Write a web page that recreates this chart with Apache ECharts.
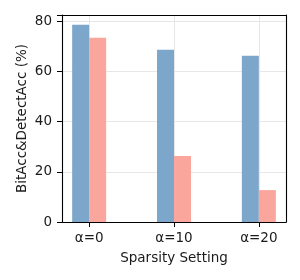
<!DOCTYPE html>
<html><head><meta charset="utf-8">
<script src="https://cdn.jsdelivr.net/npm/echarts@6/dist/echarts.min.js"></script>
<style>html,body{margin:0;padding:0;background:#fff}#c{width:300px;height:280px}</style>
</head><body><div id="c"></div>
<script>
const categories = ['α=0', 'α=10', 'α=20'];
const bitAcc = [78.5, 68.6, 66.2];
const detectAcc = [73.3, 26.3, 12.7];
const yTicks = [0, 20, 40, 60, 80];

const font = 'DejaVu Sans';
const chart = echarts.init(document.getElementById('c'), null, {renderer: 'canvas'});
const pos = categories.map((c, i) => i);
chart.setOption({
  animation: false,
  backgroundColor: '#fff',
  grid: {left: 62, right: 14, top: 15, bottom: 58, show: false},
  xAxis: [{
    type: 'value', min: -0.32, max: 2.32, position: 'bottom',
    name: 'Sparsity Setting', nameLocation: 'middle', nameGap: 29, nameMoveOverlap: false,
    nameTextStyle: {fontFamily: font, fontSize: 13.5, color: '#1a1a1a'},
    axisLine: {show: true, onZero: false, lineStyle: {color: '#000', width: 1.1}},
    axisTick: {show: true, customValues: pos, length: 5, lineStyle: {color: '#000', width: 1}},
    axisLabel: {customValues: pos, formatter: v => categories[Math.round(v)], fontFamily: font, fontSize: 13.5, color: '#1a1a1a', margin: 9},
    splitLine: {show: true, lineStyle: {color: '#e7e7e7', width: 1}}
  }, {
    type: 'value', min: -0.32, max: 2.32, position: 'top',
    axisLine: {show: true, onZero: false, lineStyle: {color: '#000', width: 1.1}},
    axisTick: {show: false}, axisLabel: {show: false}, splitLine: {show: false}
  }],
  yAxis: [{
    type: 'value', min: 0, max: 82.4, interval: 20, position: 'left',
    name: 'BitAcc&DetectAcc (%)', nameLocation: 'middle', nameGap: 33, nameMoveOverlap: false,
    nameTextStyle: {fontFamily: font, fontSize: 13.5, color: '#1a1a1a'},
    axisLine: {show: true, onZero: false, lineStyle: {color: '#000', width: 1.1}},
    axisTick: {show: true, length: 5, lineStyle: {color: '#000', width: 1}},
    axisLabel: {fontFamily: font, fontSize: 13.5, color: '#1a1a1a', margin: 10, showMaxLabel: true,
      formatter: v => yTicks.includes(v) ? String(v) : ''},
    splitLine: {show: true, lineStyle: {color: '#e7e7e7', width: 1}}
  }, {
    type: 'value', min: 0, max: 82.4, position: 'right',
    axisLine: {show: true, onZero: false, lineStyle: {color: '#000', width: 1.1}},
    axisTick: {show: false}, axisLabel: {show: false}, splitLine: {show: false}
  }],
  series: [
    {type: 'bar', data: pos.map(i => [i, bitAcc[i]]), barWidth: 17, barGap: '0%', itemStyle: {color: '#7da7ca'}},
    {type: 'bar', data: pos.map(i => [i, detectAcc[i]]), barWidth: 17, barGap: '0%', itemStyle: {color: '#fba69c'}}
  ]
});
</script></body></html>
